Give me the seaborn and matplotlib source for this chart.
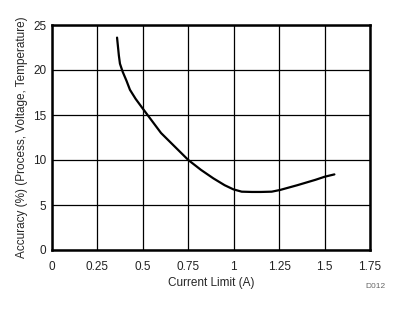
import matplotlib
matplotlib.use("Agg")
import matplotlib.pyplot as plt
import seaborn as sns
import pandas as pd

current_limit = [0.358, 0.362, 0.368, 0.374, 0.389, 0.41, 0.429, 0.46, 0.5, 0.6, 0.75, 0.82, 0.888, 0.95, 0.998, 1.044, 1.10, 1.15, 1.209, 1.255, 1.35, 1.45, 1.502, 1.554]
accuracy = [23.6, 22.8, 21.6, 20.7, 19.8, 18.8, 17.8, 16.8, 15.7, 13.0, 10.0, 8.9, 7.96, 7.2, 6.74, 6.48, 6.45, 6.45, 6.48, 6.67, 7.2, 7.8, 8.15, 8.4]

x_ticks = [0, 0.25, 0.5, 0.75, 1, 1.25, 1.5, 1.75]
x_labels = ["0", "0.25", "0.5", "0.75", "1", "1.25", "1.5", "1.75"]
y_ticks = [0, 5, 10, 15, 20, 25]

sns.set_style("white")
plt.rcParams['font.family'] = ['Liberation Sans', 'DejaVu Sans']

df = pd.DataFrame({"x": current_limit, "y": accuracy})
fig = plt.figure(figsize=(4.03, 3.12), dpi=100)
ax = fig.add_axes([52/403, 62/312, 318/403, 225/312])
sns.lineplot(data=df, x="x", y="y", ax=ax, color="black", linewidth=1.6)
ax.set_xlim(0, 1.75)
ax.set_ylim(0, 25)
ax.set_xticks(x_ticks)
ax.set_xticklabels(x_labels)
ax.set_yticks(y_ticks)
ax.grid(True, color="black", linewidth=0.9)
for s in ax.spines.values():
    s.set_visible(True)
    s.set_color("black")
    s.set_linewidth(1.8)
ax.tick_params(axis="y", length=0, labelsize=8.5, colors="#222222", pad=4)
ax.tick_params(axis="x", length=0, labelsize=8.5, colors="#222222", pad=8)
ax.set_xlabel("Current Limit (A)", fontsize=8.5, labelpad=3)
ax.set_ylabel("Accuracy (%) (Process, Voltage, Temperature)", fontsize=8.5, labelpad=4)
fig.text(386/403, 1 - 286/312, "D012", fontsize=6, color="#666666", ha="right", va="center")
fig.savefig("out.png", dpi=100)
